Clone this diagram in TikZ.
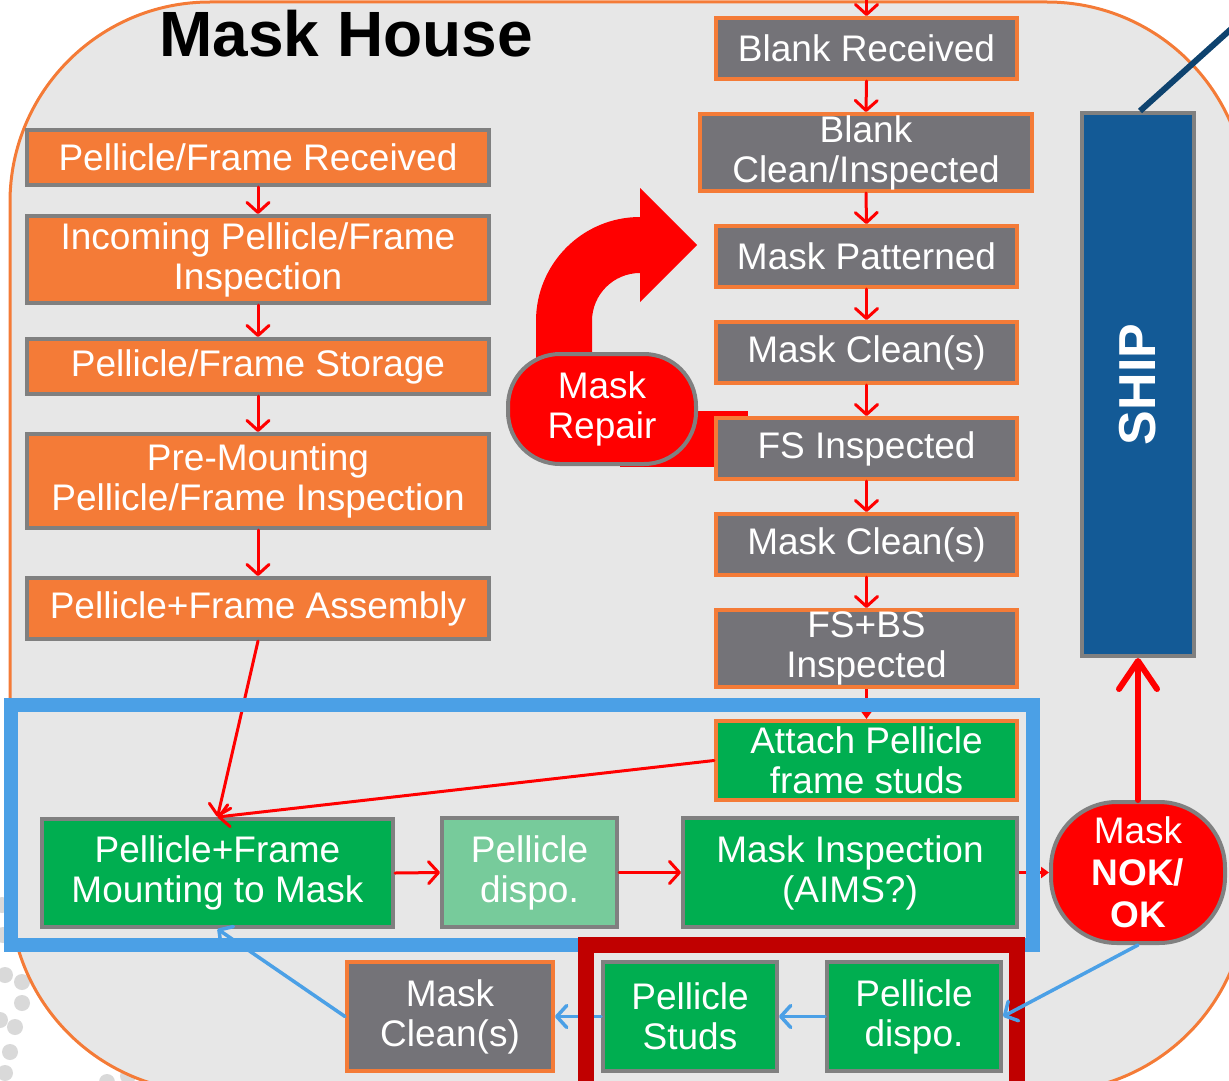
\documentclass[tikz,border=0pt]{standalone}
\usepackage{fontspec}
\setmainfont{Liberation Sans}
\usetikzlibrary{arrows.meta}
\definecolor{bgc}{HTML}{E7E7E7}
\definecolor{orng}{HTML}{F47B37}
\definecolor{bgray}{HTML}{808080}
\definecolor{boxg}{HTML}{747378}
\definecolor{grn}{HTML}{00AE50}
\definecolor{lgrn}{HTML}{77CB9B}
\definecolor{bfr}{HTML}{4BA0E6}
\definecolor{dred}{HTML}{C00000}
\definecolor{shipb}{HTML}{135A96}
\definecolor{dblue}{HTML}{0E436F}
\definecolor{dotg}{HTML}{D9D9D9}
\begin{document}
\begin{tikzpicture}[x=1pt,y=1pt,
 box/.style={rectangle, line width=4pt, text=white, align=center, inner sep=0pt, font=\fontsize{37}{40}\selectfont},
 obox/.style={box, fill=orng, draw=bgray},
 gbox/.style={box, fill=boxg, draw=orng},
 ggbox/.style={box, fill=grn, draw=orng},
 grbox/.style={box, fill=grn, draw=bgray},
 lgbox/.style={box, fill=lgrn, draw=bgray},
 rarr/.style={draw=red, line width=3pt, line cap=round, -{Straight Barb[length=10pt,width=22pt,round]}},
 tarr/.style={draw=red, line width=2.5pt, -{Triangle[length=8pt,width=11pt]}},
 barr/.style={draw=bfr, line width=3.5pt, line cap=round, -{Straight Barb[length=10pt,width=22pt,round]}},
 dotst/.style={fill=dotg},
]
\clip (0,0) rectangle (1229,-1081);
% decorative dots
\foreach \px/\py in {2/905, 3/935, 5/975, 22/982, 22/1003, 0/1020, 15/1027, 10/1052, 5/1073, 107/1082, 128/1076}
  \fill[dotst] (\px,-\py) circle[radius=8pt];
% main area
\draw[fill=bgc, draw=orng, line width=3pt, rounded corners=200pt] (10,-2) rectangle (1247,-1092);
% title
\node[anchor=base, font=\fontsize{64}{64}\selectfont\bfseries] (title) at (346,-57) {Mask House};
% mask repair red shapes
\fill[red] (536,-400) -- (536,-321) arc[start angle=180,end angle=90,radius=104pt] -- (640,-188) -- (697,-245) -- (640,-302) -- (640,-273) arc[start angle=90,end angle=180,radius=48pt] -- (592,-400) -- cycle;
\fill[red] (620,-411) rectangle (748,-467);
% left column
\node[obox, minimum width=462pt, minimum height=55pt] (L1) at (258,-157.5) {Pellicle/Frame Received};
\node[obox, minimum width=462pt, minimum height=87pt] (L2) at (258,-259.5) {Incoming Pellicle/Frame\\Inspection};
\node[obox, minimum width=462pt, minimum height=55pt] (L3) at (258,-366.5) {Pellicle/Frame Storage};
\node[obox, minimum width=462pt, minimum height=94pt] (L4) at (258,-481) {Pre-Mounting\\Pellicle/Frame Inspection};
\node[obox, minimum width=462pt, minimum height=61pt] (L5) at (258,-608.5) {Pellicle+Frame Assembly};
% right column
\node[gbox, minimum width=301pt, minimum height=61pt] (A) at (866.5,-48.5) {Blank Received};
\node[gbox, minimum width=332pt, minimum height=77pt] (B) at (866,-152.5) {Blank\\Clean/Inspected};
\node[gbox, minimum width=301pt, minimum height=61pt] (C) at (866.5,-256.5) {Mask Patterned};
\node[gbox, minimum width=301pt, minimum height=61pt] (D) at (866.5,-352.5) {Mask Clean(s)};
\node[gbox, minimum width=301pt, minimum height=61pt] (E) at (866.5,-448.5) {FS Inspected};
\node[gbox, minimum width=301pt, minimum height=61pt] (F) at (866.5,-544.5) {Mask Clean(s)};
\node[gbox, minimum width=301pt, minimum height=77pt] (G) at (866.5,-648.5) {FS+BS\\Inspected};
\node[ggbox, minimum width=301pt, minimum height=79pt] (H) at (866.5,-760.5) {Attach Pellicle\\frame studs};
% mask repair
\node[box, fill=red, draw=bgray, rounded corners=52pt, minimum width=188pt, minimum height=110pt] (MR) at (602,-409) {Mask\\Repair};
% bottom rows
\node[grbox, minimum width=351pt, minimum height=108pt] (Mount) at (217.5,-873) {Pellicle+Frame\\Mounting to Mask};
\node[lgbox, minimum width=175pt, minimum height=109pt] (PD1) at (529.5,-872.5) {Pellicle\\dispo.};
\node[grbox, minimum width=334pt, minimum height=109pt] (MI) at (850,-872.5) {Mask Inspection\\(AIMS?)};
\node[box, fill=red, draw=bgray, rounded corners=66pt, minimum width=174pt, minimum height=141pt, font=\fontsize{37}{42}\selectfont] (NOK) at (1138,-872.5) {Mask\\\textbf{NOK/}\\\textbf{OK}};
\node[gbox, minimum width=206pt, minimum height=109pt] (MC2) at (450,-1016.5) {Mask\\Clean(s)};
\node[grbox, minimum width=174pt, minimum height=109pt] (PS) at (690,-1016.5) {Pellicle\\Studs};
\node[grbox, minimum width=174pt, minimum height=109pt] (PD2) at (914,-1016.5) {Pellicle\\dispo.};
% ship
\node[box, fill=shipb, draw=bgray, minimum width=112pt, minimum height=543pt] (SHIP) at (1138,-384.5) {};
\node[rotate=90, text=white, font=\fontsize{52}{52}\selectfont\bfseries] (shiptxt) at (SHIP.center) {SHIP};
\coordinate (shipline) at (1250,-12);
\draw[dblue, line width=6pt] ([xshift=2pt]SHIP.north) -- (shipline);
% red arrows
\coordinate (topin) at (866.5,8);
\draw[rarr] (topin) -- (A.north);
\draw[rarr] (A.south) -- (B.north);
\draw[rarr] (B.south) -- (C.north);
\draw[rarr] (C.south) -- (D.north);
\draw[rarr] (D.south) -- (E.north);
\draw[rarr] (E.south) -- (F.north);
\draw[rarr] (F.south) -- (G.north);
\draw[tarr] (G.south) -- (H.north);
\draw[rarr] (L1.south) -- (L2.north);
\draw[rarr] (L2.south) -- (L3.north);
\draw[rarr] (L3.south) -- (L4.north);
\draw[rarr] (L4.south) -- (L5.north);
\draw[rarr] (L5.south) -- (Mount.north);
\draw[rarr] (H.west) -- (Mount.north);
\draw[rarr] (Mount.east) -- (PD1.west);
\draw[rarr] (PD1.east) -- (MI.west);
\draw[tarr] (MI.east) -- (NOK.west);
\draw[red, line width=6pt, line cap=round, -{Straight Barb[length=28pt,width=38pt,round]}] (NOK.north) -- (SHIP.south);
% blue arrows
\draw[barr] (PD2.west) -- (PS.east);
\draw[barr] (PS.west) -- (MC2.east);
\draw[barr] (MC2.west) -- (Mount.south);
% frames
\draw[bfr, line width=14pt] (11,-705) rectangle (1033,-945);
\draw[dred, line width=16pt] (585.5,-945) rectangle (1017,-1110);
\draw[barr] (NOK.south) -- (PD2.east);
\end{tikzpicture}
\end{document}
